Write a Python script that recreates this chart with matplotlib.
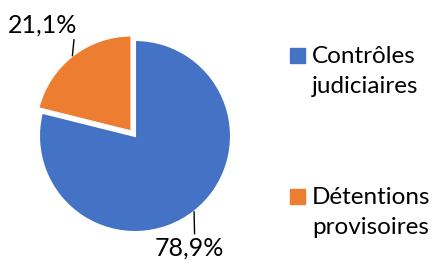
import matplotlib
matplotlib.use("Agg")
import matplotlib.pyplot as plt
from matplotlib.patches import Rectangle
import numpy as np

plt.rcParams['font.family'] = ['Lato', 'DejaVu Sans']

# data
categories = ["Contrôles\njudiciaires", "Détentions\nprovisoires"]
values = [78.9, 21.1]
pct_labels = ["78,9%", "21,1%"]
colors = ["#4472C4", "#ED7D31"]

W, H = 433, 266
fig = plt.figure(figsize=(W / 100, H / 100), dpi=100)

# pie centre at (135, 136) px from top-left, radius 96 px
R = 96
span = 1.2
cx, cy = 135, H - 136
ax = fig.add_axes([(cx - span * R) / W, (cy - span * R) / H,
                   2 * span * R / W, 2 * span * R / H])
wedges, _ = ax.pie(values, colors=colors, explode=[0, 0.06],
                   startangle=90, counterclock=False,
                   wedgeprops=dict(edgecolor='white', linewidth=1.5))
ax.set_xlim(-span, span)
ax.set_ylim(-span, span)
ax.axis('off')

# percentage labels with short vertical leader lines
label_pos = [(-5, -25, 'top', 0.58, 1), (-30, 19, 'bottom', 0.96, 0)]
for w, txt, (dx, dy, va, rx, ry) in zip(wedges, pct_labels, label_pos):
    ang = np.deg2rad((w.theta1 + w.theta2) / 2)
    x = w.center[0] + w.r * np.cos(ang)
    y = w.center[1] + w.r * np.sin(ang)
    ax.annotate(txt, xy=(x, y), xytext=(dx, dy), textcoords='offset pixels',
                ha='center', va=va, fontsize=18, color='black',
                arrowprops=dict(arrowstyle='-', color='black', lw=1,
                                relpos=(rx, ry), shrinkA=0, shrinkB=0))

# legend drawn by hand (Excel style, two-line labels)
sq = 15
for label, color, base in zip(categories, colors, [63, 204]):
    fig.patches.append(Rectangle((290 / W, (H - base) / H), sq / W, sq / H,
                                 transform=fig.transFigure, color=color))
    for i, line in enumerate(label.split("\n")):
        fig.text(312 / W, (H - base - 30 * i) / H, line, va='baseline',
                 ha='left', fontsize=17.5, color='black')

fig.savefig("out.png", dpi=100)
